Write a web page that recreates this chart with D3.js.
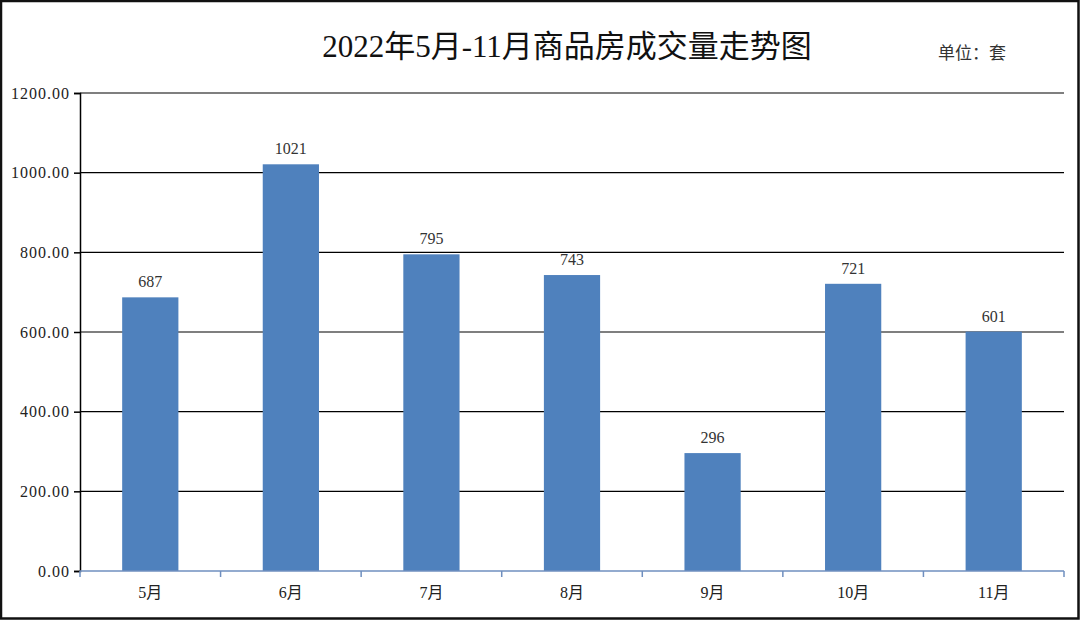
<!DOCTYPE html>
<html><head><meta charset="utf-8">
<script src="https://cdn.jsdelivr.net/npm/d3@7"></script>
<style>body{margin:0;background:#fff}svg{display:block}</style>
</head><body>
<svg id="c" width="1080" height="620"></svg>
<script>
const categories = ["5月","6月","7月","8月","9月","10月","11月"];
const values = [687,1021,795,743,296,721,601];
const yTicks = [0,200,400,600,800,1000,1200];
const title = "2022年5月-11月商品房成交量走势图";
const unitLabel = "单位：套";

const svg = d3.select("#c");
const W = 1080, H = 620;
const m = {left:80, right:16, top:93, bottom:49};
const serif = "'Liberation Serif','Times New Roman','Noto Sans CJK SC',serif";

svg.append("rect").attr("x",1).attr("y",1).attr("width",W-2.5).attr("height",H-2.5)
  .attr("fill","#fff").attr("stroke","#111").attr("stroke-width",2.5);

const x = d3.scaleBand().domain(categories).range([m.left, W-m.right]).paddingInner(0.6).paddingOuter(0.3);
const xb = d3.scaleBand().domain(categories).range([m.left, W-m.right]);
const y = d3.scaleLinear().domain([0,1200]).range([H-m.bottom, m.top]);

// gridlines
svg.append("g").selectAll("line").data(yTicks.slice(1)).join("line")
  .attr("x1",m.left).attr("x2",W-m.right).attr("y1",d=>y(d)).attr("y2",d=>y(d))
  .attr("stroke","#000").attr("stroke-width",1.2);

// bars
svg.append("g").selectAll("rect").data(values).join("rect")
  .attr("x",(d,i)=>x(categories[i])).attr("width",x.bandwidth())
  .attr("y",d=>y(d)).attr("height",d=>y(0)-y(d)).attr("fill","#4f81bd");

// y axis
const ya = svg.append("g").attr("transform",`translate(${m.left},0)`)
  .call(d3.axisLeft(y).tickValues(yTicks).tickSize(6).tickPadding(4).tickFormat(d=>d3.format(".2f")(d)));
ya.select(".domain").attr("stroke","#000").attr("stroke-width",1.5);
ya.selectAll(".tick line").attr("stroke","#000").attr("stroke-width",1.5);
ya.selectAll("text").attr("font-family",serif).attr("font-size",16).attr("letter-spacing",1).attr("fill","#222");

// x axis
const xg = svg.append("g").attr("transform",`translate(0,${y(0)})`);
xg.append("line").attr("x1",m.left).attr("x2",W-m.right).attr("y1",0).attr("y2",0)
  .attr("stroke","#6f8fbf").attr("stroke-width",1.5);
const bounds = categories.map(c=>xb(c)).concat([xb(categories[categories.length-1])+xb.bandwidth()]);
xg.selectAll("line.t").data(bounds).join("line").attr("class","t")
  .attr("x1",d=>d).attr("x2",d=>d).attr("y1",0).attr("y2",6)
  .attr("stroke","#6f8fbf").attr("stroke-width",1.5);
xg.selectAll("text").data(categories).join("text")
  .attr("x",d=>xb(d)+xb.bandwidth()/2).attr("y",27).attr("text-anchor","middle")
  .attr("font-family",serif).attr("font-size",16).attr("fill","#222").text(d=>d);

// data labels
svg.append("g").selectAll("text").data(values).join("text")
  .attr("x",(d,i)=>x(categories[i])+x.bandwidth()/2).attr("y",d=>y(d)-10)
  .attr("text-anchor","middle").attr("font-family",serif).attr("font-size",16).attr("fill","#333")
  .text(d=>d);

// title
svg.append("text").attr("x",567).attr("y",57).attr("text-anchor","middle")
  .attr("font-family",serif).attr("font-size",31).attr("fill","#111").text(title);
svg.append("text").attr("x",972).attr("y",59).attr("text-anchor","middle")
  .attr("font-family","'Noto Sans CJK SC',sans-serif").attr("font-size",17).attr("fill","#333").text(unitLabel);
</script>
</body></html>
